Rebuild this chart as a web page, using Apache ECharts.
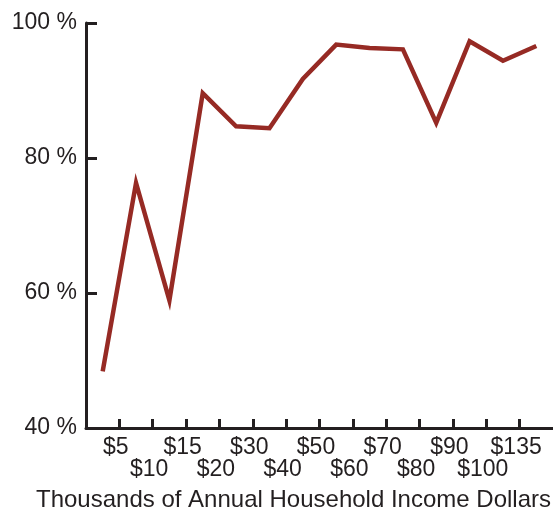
<!DOCTYPE html>
<html>
<head>
<meta charset="utf-8">
<script src="https://cdn.jsdelivr.net/npm/echarts@6/dist/echarts.min.js"></script>
<style>html,body{margin:0;padding:0;background:#fff;}#c{width:553px;height:510px;}</style>
</head>
<body>
<div id="c"></div>
<script>
// Tick labels at bin boundaries (thousands of dollars)
var tickLabels = ['$5','$10','$15','$20','$30','$40','$50','$60','$70','$80','$90','$100','$135'];
// One value per income bin (between consecutive ticks), percent
var binValues = [48.4, 76.3, 58.9, 89.6, 84.7, 84.4, 91.7, 96.8, 96.3, 96.1, 85.2, 97.3, 94.4, 96.6];
var yTicks = [40, 60, 80, 100];
var axisTitle = 'Thousands of Annual Household Income Dollars';

var seriesData = binValues.map(function (v, i) { return [i + 0.5, v]; });

var chart = echarts.init(document.getElementById('c'), null, {renderer: 'canvas'});
var font = 'Liberation Sans, Arial, Helvetica, sans-serif';
var axisColor = '#231f20';
chart.setOption({
  animation: false,
  grid: {left: 86, top: 23, right: 0, bottom: 82, containLabel: false, outerBoundsMode: 'none'},
  xAxis: {
    type: 'value',
    min: 0,
    max: binValues.length,
    interval: 1,
    splitLine: {show: false},
    axisLine: {show: true, lineStyle: {color: axisColor, width: 3}},
    axisTick: {show: true, inside: true, length: 9, lineStyle: {color: axisColor, width: 3}},
    axisLabel: {
      show: true,
      showMinLabel: false,
      showMaxLabel: false,
      color: axisColor,
      fontFamily: font,
      fontSize: 23,
      lineHeight: 22,
      margin: 9,
      padding: [0, 7, 0, 0],
      formatter: function (val) {
        var k = Math.round(val);
        if (k < 1 || k > tickLabels.length) return '';
        var t = tickLabels[k - 1];
        return (k % 2 === 1) ? t : '\n' + t;
      }
    },
    name: axisTitle,
    nameLocation: 'middle',
    nameGap: 60,
    nameTextStyle: {color: axisColor, fontFamily: font, fontSize: 24, padding: [0, 52, 0, 0]}
  },
  yAxis: {
    type: 'value',
    min: yTicks[0],
    max: yTicks[yTicks.length - 1],
    interval: 20,
    splitLine: {show: false},
    axisLine: {show: true, lineStyle: {color: axisColor, width: 3}},
    axisTick: {show: true, inside: true, length: 11, lineStyle: {color: axisColor, width: 3}},
    axisLabel: {
      color: axisColor,
      fontFamily: font,
      fontSize: 23,
      margin: 9,
      formatter: function (v) { return v + ' %'; }
    }
  },
  series: [{
    type: 'line',
    data: seriesData,
    symbol: 'none',
    lineStyle: {color: '#962a24', width: 4.5, join: 'miter'},
    clip: false
  }]
});
</script>
</body>
</html>
